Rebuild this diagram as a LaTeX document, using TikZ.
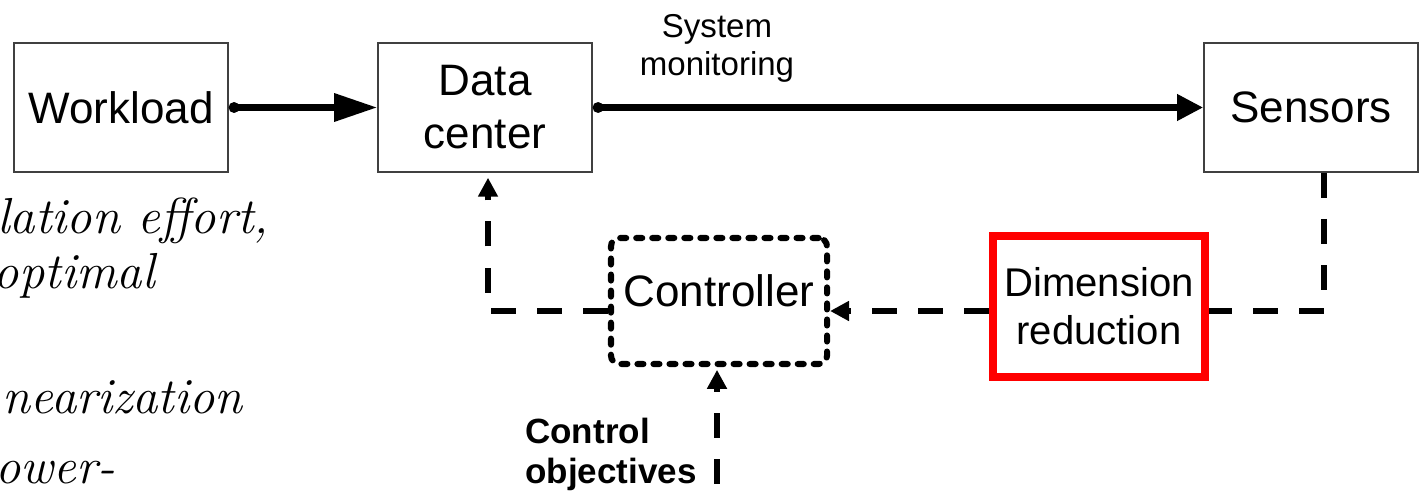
\documentclass[tikz,border=0pt]{standalone}
\usepackage{fontspec}
\setsansfont{Liberation Sans}
\usetikzlibrary{arrows.meta}
\tikzset{block/.style={draw=black!75, line width=1.1pt, minimum width=5.35cm, minimum height=3.225cm,
    inner sep=0pt, align=center, font=\sffamily\fontsize{31.3}{37.7}\selectfont},
ctrlbox/.style={draw, line width=4.3pt, line cap=round, dash pattern=on 4.3pt off 7.1pt,
    rounded corners=6pt, minimum width=5.4cm, minimum height=3.15cm, inner sep=0pt,
    text height=22.8pt, text depth=15.6pt, font=\sffamily\fontsize{31.3}{37.7}\selectfont},
redbox/.style={draw=red, line width=5.7pt, minimum width=5.3cm, minimum height=3.525cm,
    inner sep=0pt, align=center, font=\sffamily\fontsize{28.5}{34}\selectfont},
%solid signal lines, dot at the start
flow/.style={line width=4.6pt, arrows={Circle[length=7.5pt]-Triangle[length=30.6pt,width=19.2pt]}},
flowsmall/.style={line width=4.6pt, arrows={Circle[length=7.5pt]-Triangle[length=18.5pt,width=17.8pt]}},
%dashed feedback lines
fback/.style={line width=4.6pt, dash pattern=on 17.8pt off 15pt, arrows={-Triangle[length=13.5pt,width=13.5pt]}},
cuttext/.style={inner sep=0pt, font=\itshape\fontsize{36}{42}\selectfont}}

\begin{document}
\begin{tikzpicture}[x=0.025cm, y=-0.025cm]

\useasboundingbox (0,0) rectangle (1420,499);
\clip (0,0) rectangle (1420,499);

\node[block] (work) at (121,107.5) {Workload};
\node[block] (dc) at (485,107.5) {Data\\center};
\node[block] (sens) at (1311,107.5) {Sensors};

\node[ctrlbox] (ctrl) at (719,301) {Controller};
\node[redbox] (dimr) at (1099,306.5) {Dimension\\reduction};

\node[inner sep=0pt, align=center, font=\sffamily\fontsize{23.5}{27}\selectfont] (mon) at (717,48) {System\\monitoring};
\node[inner sep=0pt, align=left, anchor=north west, font=\sffamily\bfseries\fontsize{24.9}{28.5}\selectfont] (obj) at (525,418) {Control\\objectives};

% corners of the feedback loop
\coordinate (c1) at (1324,311);
\coordinate (c2) at (488,311);
\coordinate (c3) at (717,530);

\draw[flow] (work) -- (dc);
\draw[flowsmall] (dc) -- (sens);

\draw[fback, arrows=-] (sens.south -| c1) -- (c1) -- (dimr.east |- c1);
\draw[fback] (dimr.west |- c1) -- (ctrl.east |- c1);
\draw[fback, shorten >=3.5pt] (ctrl.west |- c1) -- (c2) -- (dc.south -| c2);
\draw[fback, shorten >=2pt] (c3) -- (ctrl.south -| c3);

% text cut off at the left border
\node[cuttext, anchor=base west] (t1) at (-3,233) {lation effort,};
\foreach \x/\y/\t in {155/288/optimal, 243/413/nearization, 115/483/ower-}
    \node[cuttext, anchor=base east] at (\x,\y) {\t};

\end{tikzpicture}
\end{document}
